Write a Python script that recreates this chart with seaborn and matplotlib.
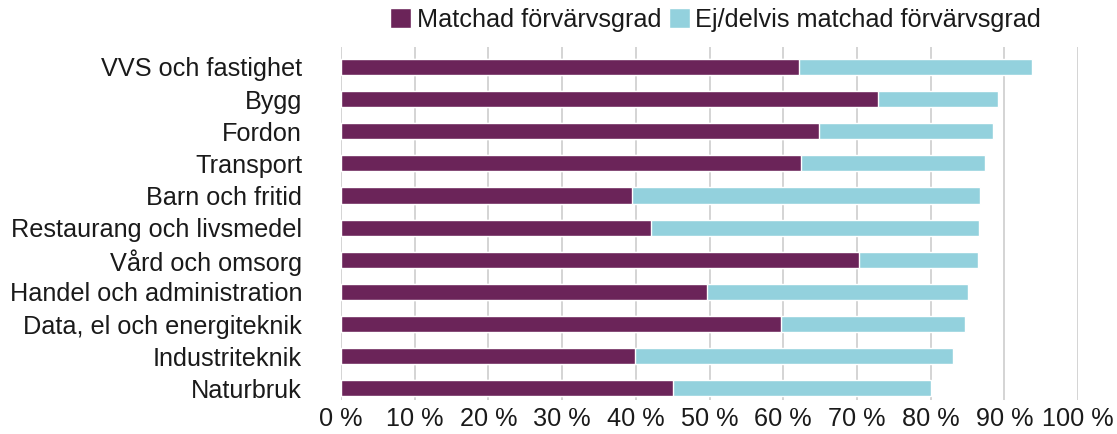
import pandas as pd
import seaborn as sns
import matplotlib.pyplot as plt
from matplotlib.ticker import MultipleLocator, FuncFormatter

# data (in percent)
kategorier = [
    "VVS och fastighet",
    "Bygg",
    "Fordon",
    "Transport",
    "Barn och fritid",
    "Restaurang och livsmedel",
    "Vård och omsorg",
    "Handel och administration",
    "Data, el och energiteknik",
    "Industriteknik",
    "Naturbruk",
]
matchad = [62.1, 72.8, 64.8, 62.4, 39.5, 42.0, 70.3, 49.7, 59.7, 39.9, 45.1]
totalt = [93.8, 89.1, 88.4, 87.4, 86.7, 86.6, 86.4, 85.1, 84.7, 83.1, 80.1]

lbl_matchad = "Matchad förvärvsgrad"
lbl_ej = "Ej/delvis matchad förvärvsgrad"

df = pd.DataFrame({"kategori": kategorier, "matchad": matchad, "totalt": totalt})

PURPLE = "#6b2459"
CYAN = "#93d1dd"
FS = 18.2

sns.set_style("white")
plt.rcParams["font.family"] = ["Liberation Sans", "DejaVu Sans"]
plt.rcParams["font.size"] = FS
plt.rcParams["text.color"] = "#1a1a1a"

fig = plt.figure(figsize=(11.17, 4.34), dpi=100)
ax = fig.add_axes([0.3053, 0.0783, 0.6598, 0.8127])

# cyan bar = total, purple bar drawn over it = matched part
sns.barplot(data=df, y="kategori", x="totalt", color=CYAN, width=0.5,
            orient="h", saturation=1, ax=ax, label=lbl_ej, zorder=3)
sns.barplot(data=df, y="kategori", x="matchad", color=PURPLE, width=0.5,
            orient="h", saturation=1, ax=ax, label=lbl_matchad, zorder=3)

ax.set_xlim(0, 100)
ax.set_ylim(10.36, -0.61)
ax.xaxis.set_major_locator(MultipleLocator(10))
ax.xaxis.set_major_formatter(FuncFormatter(lambda v, p: f"{v:.0f} %"))
ax.grid(axis="x", color="#d4d4d4", linewidth=1.4, zorder=0)
ax.set_axisbelow(True)
sns.despine(ax=ax, left=True, bottom=True)
ax.set_xlabel("")
ax.set_ylabel("")
ax.tick_params(axis="y", length=0, pad=28, labelcolor="#1a1a1a")
ax.tick_params(axis="x", length=0, pad=5, labelcolor="#1a1a1a")

handles, labels = ax.get_legend_handles_labels()
order = [labels.index(lbl_matchad), labels.index(lbl_ej)]
if ax.get_legend() is not None:
    ax.get_legend().remove()
fig.legend([handles[i] for i in order], [labels[i] for i in order],
           loc="center left", bbox_to_anchor=(390 / 1117, 1 - 20 / 434),
           ncol=2, frameon=False, borderpad=0, borderaxespad=0,
           handlelength=0.85, handleheight=0.85, handletextpad=0.2,
           columnspacing=0.3, fontsize=FS)

fig.savefig("out.png", dpi=100)
